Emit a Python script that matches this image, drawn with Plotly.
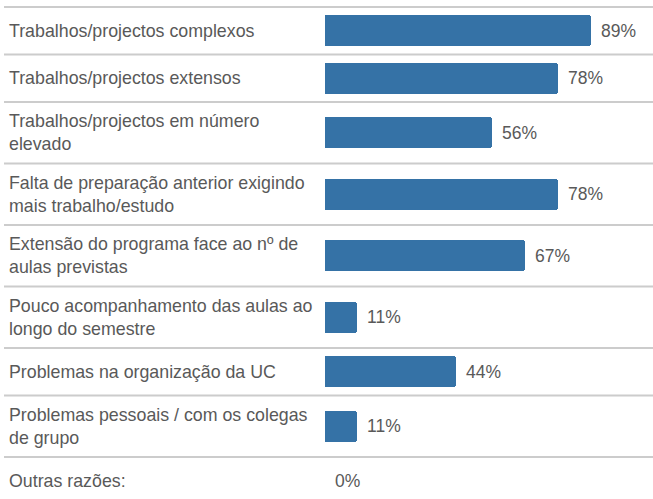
import plotly.graph_objects as go

categories = [
    "Trabalhos/projectos complexos",
    "Trabalhos/projectos extensos",
    "Trabalhos/projectos em número<br>elevado",
    "Falta de preparação anterior exigindo<br>mais trabalho/estudo",
    "Extensão do programa face ao nº de<br>aulas previstas",
    "Pouco acompanhamento das aulas ao<br>longo do semestre",
    "Problemas na organização da UC",
    "Problemas pessoais / com os colegas<br>de grupo",
    "Outras razões:",
]
values = [89, 78, 56, 78, 67, 11, 44, 11, 0]
value_labels = ["89%", "78%", "56%", "78%", "67%", "11%", "44%", "11%", "0%"]

W, H = 653, 499
TOP = 7.0
ROW1, ROW2 = 47.5, 61.5
X0_PX, PX_PER_PCT = 324.5, 2.995
BAR_COLOR = "#3572a6"
TEXT_COLOR = "#595959"
FONT = "Liberation Sans, Arial, sans-serif"

# row layout (pixel units on the y axis)
bounds = [TOP]
centers = []
for c in categories:
    h = ROW2 if "<br>" in c else ROW1
    centers.append(bounds[-1] + h / 2)
    bounds.append(bounds[-1] + h)

fig = go.Figure()
fig.add_trace(go.Bar(
    x=values, y=centers, orientation="h", width=31,
    marker=dict(color=BAR_COLOR, cornerradius=3, line=dict(width=0)),
    hoverinfo="skip",
))

for c, yc in zip(categories, centers):
    fig.add_annotation(x=7 / W, xref="paper", y=yc, yref="y", text=c,
                       showarrow=False, xanchor="left", yanchor="middle",
                       align="left", font=dict(family=FONT, size=17.8, color=TEXT_COLOR))
for v, lab, yc in zip(values, value_labels, centers):
    fig.add_annotation(x=v, xref="x", y=yc, yref="y", text=lab, showarrow=False,
                       xanchor="left", yanchor="middle", xshift=8,
                       font=dict(family=FONT, size=17.5, color=TEXT_COLOR))
for b in bounds[:-1]:
    fig.add_shape(type="line", xref="paper", yref="y", x0=4 / W, x1=1, y0=b, y1=b,
                  line=dict(color="#cccccc", width=2), layer="below")

fig.update_layout(
    width=W, height=H, margin=dict(l=0, r=0, t=0, b=0),
    paper_bgcolor="white", plot_bgcolor="white", showlegend=False,
    xaxis=dict(range=[-X0_PX / PX_PER_PCT, (W - X0_PX) / PX_PER_PCT], visible=False, fixedrange=True),
    yaxis=dict(range=[H, 0], visible=False, fixedrange=True),
    bargap=0,
)
fig.write_html("out.html", config={"displayModeBar": False},
               post_script="document.body.style.margin='0';document.body.style.overflow='hidden';")
